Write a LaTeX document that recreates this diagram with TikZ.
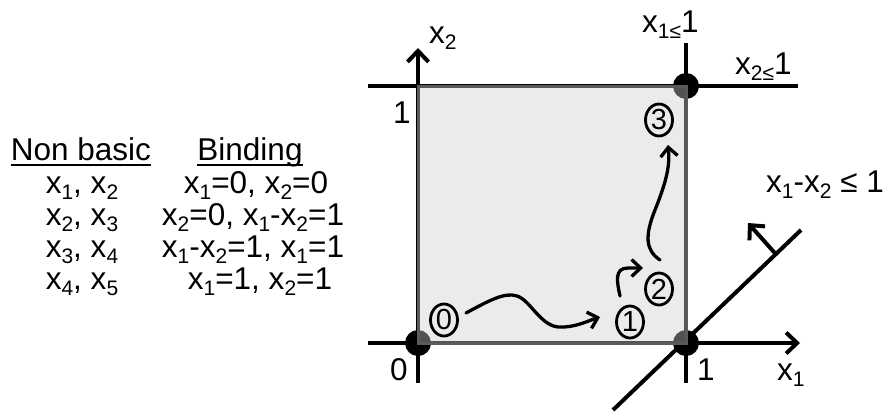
\documentclass[tikz,border=0pt]{standalone}
\usepackage{fontspec}
\setmainfont{Liberation Sans}
\usepackage{graphicx}
\usetikzlibrary{arrows.meta,shapes.geometric,calc}
\definecolor{sqfill}{RGB}{205,205,205}
\definecolor{sqedge}{RGB}{90,90,90}
\newcommand\sbx[1]{\raisebox{-0.22em}{\fontsize{21}{21}\selectfont #1}}
\tikzset{
  lbl/.style={inner sep=0pt, font=\fontsize{31.5}{33}\selectfont},
  axis/.style={line width=4pt, draw=black},
  axarrow/.style={axis, -{Straight Barb[length=11pt,width=21pt,line width=4pt]}},
  walk/.style={line width=3.3pt, line cap=round, -{Straight Barb[length=9pt,width=17pt,line width=3.3pt]}},
  cnum/.style={ellipse, draw, line width=2.8pt, minimum width=27pt, minimum height=32pt, inner sep=0pt, font=\fontsize{29}{29}\selectfont},
  dot/.style={fill=black}
}
\begin{document}
\begin{tikzpicture}[x=1pt,y=-1pt]
\useasboundingbox (0,0) rectangle (883,413);
% table
\node[lbl, anchor=base] (h1) at (81,160) {Non basic};
\node[lbl, anchor=base] (h2) at (250,160) {Binding};
\draw[line width=2.5pt] ([yshift=-5pt]h1.base west) -- ([yshift=-5pt]h1.base east);
\draw[line width=2.5pt] ([yshift=-5pt]h2.base west) -- ([yshift=-5pt]h2.base east);
\node[lbl, anchor=base] (n1) at (82,193) {x\sbx{1}, x\sbx{2}};
\node[lbl, anchor=base] (n2) at (82,225) {x\sbx{2}, x\sbx{3}};
\node[lbl, anchor=base] (n3) at (82,257) {x\sbx{3}, x\sbx{4}};
\node[lbl, anchor=base] (n4) at (82,289) {x\sbx{4}, x\sbx{5}};
\node[lbl, anchor=base] (b1) at (256,193) {x\sbx{1}=0, x\sbx{2}=0};
\node[lbl, anchor=base] (b2) at (253,225) {x\sbx{2}=0, x\sbx{1}-x\sbx{2}=1};
\node[lbl, anchor=base] (b3) at (253,257) {x\sbx{1}-x\sbx{2}=1, x\sbx{1}=1};
\node[lbl, anchor=base] (b4) at (260,289) {x\sbx{1}=1, x\sbx{2}=1};
% axes and constraint lines
\coordinate (o) at (418,343);
\coordinate (p1) at (686,343);
\coordinate (p2) at (686,86);
\coordinate (p3) at (418,86);
\draw[axarrow] (418,383) -- (418,48);
\draw[axarrow] (368,343) -- (800,343);
\draw[axis] (368,86) -- (798,86);
\draw[axis] (686,43) -- (686,383);
\coordinate (d1) at (613,410);
\coordinate (d2) at (801,230);
\draw[axis] (d1) -- (d2);
\coordinate (dn) at ($(d1)!0.866!(d2)$);
\draw[axarrow] (dn) -- (748,223);
% corner dots
\fill[dot] (o) circle (13pt);
\fill[dot] (p1) circle (13pt);
\fill[dot] (p2) circle (13pt);
% feasible square
\fill[sqfill, fill opacity=0.4] (p3) rectangle (p1);
\draw[sqedge, line width=3pt] (p3) rectangle (p1);
% labels
\node[lbl, anchor=base west] (lx2) at (429,43) {x\sbx{2}};
\node[lbl, anchor=base west] (lx1) at (777,380) {x\sbx{1}};
\node[lbl, anchor=base west] (l1a) at (393,123) {1};
\node[lbl, anchor=base west] (l0) at (390,380) {0};
\node[lbl, anchor=base west] (l1b) at (697,380) {1};
\node[lbl, anchor=base west] (lc1) at (642,32) {x\sbx{1≤}1};
\node[lbl, anchor=base west] (lc2) at (735,74) {x\sbx{2≤}1};
\node[lbl, anchor=base west] (lc3) at (766,192) {x\sbx{1}-x\sbx{2} ≤ 1};
% circled vertices
\node[cnum] (c0) at (444,320) {0};
\node[cnum] (c1) at (630,322) {1};
\node[cnum] (c2) at (659,289) {2};
\node[cnum] (c3) at (659,120) {3};
% path of the simplex
\draw[walk] ($(c0)+(22,-7)$) .. controls (490,300) and (505,292) .. (517,296) .. controls (530,300) and (540,325) .. (558,327) .. controls (575,328) and (590,320) .. ($(c1)+(-30,-5)$);
\draw[walk] ($(c1)+(-10,-26)$) .. controls (617,282) and (614,268) .. (628,268) -- ($(c2)+(-16,-21)$);
\draw[walk] ($(c2)+(1,-29)$) .. controls (645,250) and (645,235) .. (655,210) .. controls (667,180) and (670,165) .. ($(c3)+(9,25)$);
\end{tikzpicture}
\end{document}
